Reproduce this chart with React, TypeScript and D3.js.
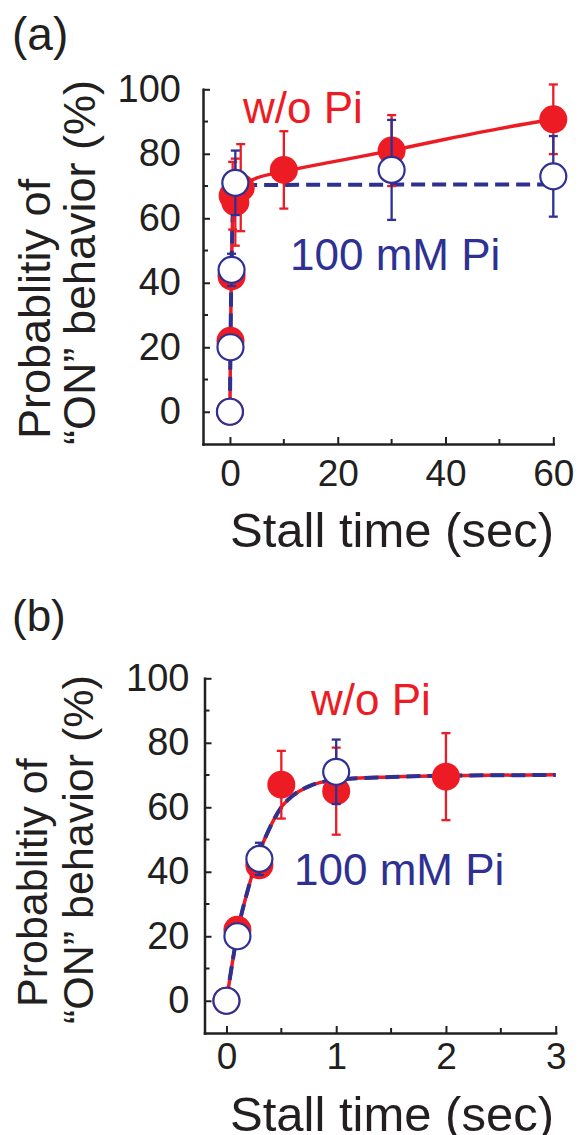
import React, { useEffect, useRef } from 'react';
import * as d3 from 'd3';

// colours taken from the figure
const RED = '#ED1C24';
const BLUE = '#2E3192';
const INK = '#231F20';
const FONT = '"Liberation Sans", Arial, Helvetica, sans-serif';

// measured points, w/o Pi (red, filled)
const redTimes = [0, 0.1, 0.3, 0.5, 1, 2, 10, 30, 60];
const redProb = [0, 22, 42, 67, 65, 69.5, 75, 81, 90.7];
const redErr = [0, 0, 0, 10.5, 13.5, 13.5, 12, 11, 10.8];

// measured points, 100 mM Pi (blue, open)
const blueTimes = [0, 0.1, 0.3, 1, 30, 60];
const blueProb = [0, 20, 44, 71, 75, 73];
const blueErr = [0, 0, 5, 10, 15.5, 12.5];

// fitted curves
const fitARedT = [0, 0.05, 0.1, 0.2, 0.3, 0.4, 0.5, 0.75, 1, 2, 5, 10, 20, 30, 40, 50, 60];
const fitARedP = [0, 11, 21, 35, 46, 54, 60, 66.5, 68.5, 70, 72.5, 74.5, 77.8, 81, 84.5, 87.8, 90.7];
const fitABlueT = [0, 0.05, 0.1, 0.2, 0.3, 0.4, 0.5, 0.75, 1, 2, 3, 60];
const fitABlueP = [0, 11, 21, 35, 46, 54, 60, 66.5, 68.5, 70, 70.3, 70.5];

// fitted curves
const fitBT = [0, 0.05, 0.1, 0.2, 0.3, 0.4, 0.5, 0.6, 0.75, 1, 1.5, 2, 3];
const fitBRedP = [0, 11, 21, 35, 46, 54, 60, 63.5, 66.5, 68.5, 69.4, 69.8, 70.1];
const fitBBlueP = [0, 11, 21, 35, 46, 54, 60, 63.5, 66.5, 68.5, 69.4, 69.8, 70];

// tick values
const yTicks = [0, 20, 40, 60, 80, 100];
const yMinor = [10, 30, 50, 70, 90];
const xTicksA = [0, 20, 40, 60];
const xMinorA = [10, 30, 50];
const xTicksB = [0, 1, 2, 3];
const xMinorB = [0.5, 1.5, 2.5];

const zip = (xs, ys, es?) => xs.map((t, i) => ({ t, p: ys[i], e: es ? es[i] : 0 }));

const panels = [
    {
        label: '(a)', labelX: 12, labelY: 50, labelSize: 46,
        xDomain: [-5, 60], xRange: [203, 553.3], yRange: [444, 89.3],
        xTicks: xTicksA, xMinor: xMinorA, xPad: 16, yPad: 22,
        xMax: 60,
        fitRed: zip(fitARedT, fitARedP), fitBlue: zip(fitABlueT, fitABlueP),
        titleY: 547,
        yTitle: { size: 45, x1: 50, x2: 95, y1: 439, y2: 445 },
        woPi: [243, 123], mmPi: [290, 270]
    },
    {
        label: '(b)', labelX: 12, labelY: 631, labelSize: 44,
        xDomain: [-0.2, 3], xRange: [204.5, 555.7], yRange: [1033, 678.3],
        xTicks: xTicksB, xMinor: xMinorB, xPad: 10, yPad: 15,
        xMax: 3,
        fitRed: zip(fitBT, fitBRedP), fitBlue: zip(fitBT, fitBBlueP),
        titleY: 1131,
        yTitle: { size: 43, x1: 47, x2: 93, y1: 1007, y2: 1024 },
        woPi: [311, 715], mmPi: [294, 885]
    }
];

const drawPanel = (root, cfg) => {
    const x = d3.scaleLinear().domain(cfg.xDomain).range(cfg.xRange);
    const y = d3.scaleLinear().domain([-10, 100]).range(cfg.yRange);
    const g = root.append('g');

    // X axis, ticks point inward
    const xAxis = g.append('g')
        .attr('transform', `translate(0,${cfg.yRange[0]})`)
        .call(d3.axisBottom(x).tickValues(cfg.xTicks).tickSize(-7).tickSizeOuter(0)
            .tickPadding(cfg.xPad).tickFormat(d3.format('d')));
    xAxis.selectAll('.minor')
        .data(cfg.xMinor)
        .enter()
        .append('line')
        .attr('class', 'minor')
        .attr('x1', d => x(d)).attr('x2', d => x(d))
        .attr('y1', 0).attr('y2', -5)
        .attr('stroke', INK).attr('stroke-width', 2);

    // Y axis
    const yAxis = g.append('g')
        .attr('transform', `translate(${cfg.xRange[0]},0)`)
        .call(d3.axisLeft(y).tickValues(yTicks).tickSize(-7).tickSizeOuter(0).tickPadding(cfg.yPad));
    yAxis.selectAll('.minor')
        .data(yMinor)
        .enter()
        .append('line')
        .attr('class', 'minor')
        .attr('y1', d => y(d)).attr('y2', d => y(d))
        .attr('x1', 0).attr('x2', 5)
        .attr('stroke', INK).attr('stroke-width', 2);

    [xAxis, yAxis].forEach(ax => {
        ax.select('.domain').attr('stroke', INK).attr('stroke-width', 2.5).attr('stroke-linecap', 'square');
        ax.selectAll('.tick line').attr('stroke', INK).attr('stroke-width', 2);
        ax.selectAll('.tick text')
            .attr('fill', INK)
            .attr('font-family', FONT);
    });
    xAxis.selectAll('.tick text').attr('font-size', 37);
    yAxis.selectAll('.tick text').attr('font-size', 38);

    // fitted curves
    const line = d3.line().x(d => x(d.t)).y(d => y(d.p)).curve(d3.curveMonotoneX);
    g.append('path')
        .datum(cfg.fitRed)
        .attr('d', line)
        .attr('fill', 'none')
        .attr('stroke', RED)
        .attr('stroke-width', 3.5);
    g.append('path')
        .datum(cfg.fitBlue)
        .attr('d', line)
        .attr('fill', 'none')
        .attr('stroke', BLUE)
        .attr('stroke-width', 4)
        .attr('stroke-dasharray', '14,7');

    const red = zip(redTimes, redProb, redErr).filter(d => d.t <= cfg.xMax);
    const blue = zip(blueTimes, blueProb, blueErr).filter(d => d.t <= cfg.xMax);

    const errorBars = (data, color) => {
        const eb = g.append('g').attr('stroke', color).attr('stroke-width', 2.3).attr('fill', 'none');
        data.filter(d => d.e > 0).forEach(d => {
            const cx = x(d.t);
            eb.append('line').attr('x1', cx).attr('x2', cx).attr('y1', y(d.p - d.e)).attr('y2', y(d.p + d.e));
            [d.p - d.e, d.p + d.e].forEach(v => {
                eb.append('line').attr('x1', cx - 4.5).attr('x2', cx + 4.5).attr('y1', y(v)).attr('y2', y(v));
            });
        });
    };

    // red: bars then filled circles
    errorBars(red, RED);
    g.append('g')
        .selectAll('circle')
        .data(red)
        .enter()
        .append('circle')
        .attr('cx', d => x(d.t))
        .attr('cy', d => y(d.p))
        .attr('r', 14)
        .attr('fill', RED);

    // blue: bars then open circles
    errorBars(blue, BLUE);
    g.append('g')
        .selectAll('circle')
        .data(blue)
        .enter()
        .append('circle')
        .attr('cx', d => x(d.t))
        .attr('cy', d => y(d.p))
        .attr('r', 13)
        .attr('fill', '#fff')
        .attr('stroke', BLUE)
        .attr('stroke-width', 2.2);

    // annotations
    g.append('text')
        .attr('x', cfg.woPi[0]).attr('y', cfg.woPi[1])
        .attr('font-family', FONT).attr('font-size', 44).attr('fill', RED)
        .text('w/o Pi');
    g.append('text')
        .attr('x', cfg.mmPi[0]).attr('y', cfg.mmPi[1])
        .attr('font-family', FONT).attr('font-size', 44).attr('fill', BLUE)
        .text('100 mM Pi');

    // axis titles
    g.append('text')
        .attr('x', 230).attr('y', cfg.titleY)
        .attr('font-family', FONT).attr('font-size', 49).attr('fill', INK)
        .text('Stall time (sec)');

    const yt = cfg.yTitle;
    g.append('text')
        .attr('transform', `translate(${yt.x1},${yt.y1}) rotate(-90)`)
        .attr('font-family', FONT).attr('font-size', yt.size).attr('fill', INK)
        .text('Probablitiy of');
    g.append('text')
        .attr('transform', `translate(${yt.x2},${yt.y2}) rotate(-90)`)
        .attr('font-family', FONT).attr('font-size', yt.size).attr('fill', INK)
        .text('\u201CON\u201D behavior (%)');

    // panel letter
    g.append('text')
        .attr('x', cfg.labelX).attr('y', cfg.labelY)
        .attr('font-family', FONT).attr('font-size', cfg.labelSize).attr('fill', INK)
        .text(cfg.label);
};

export default function App() {
    const svgRef = useRef<SVGSVGElement>(null);

    useEffect(() => {
        const svg = d3.select(svgRef.current);
        svg.selectAll('*').remove();
        svg.append('rect').attr('width', 586).attr('height', 1135).attr('fill', '#fff');
        panels.forEach(p => drawPanel(svg, p));
    }, []);

    return (
        <div style={{ position: 'absolute', left: 0, top: 0 }}>
            <svg ref={svgRef} width={586} height={1135} style={{ display: 'block' }}></svg>
        </div>
    );
}
